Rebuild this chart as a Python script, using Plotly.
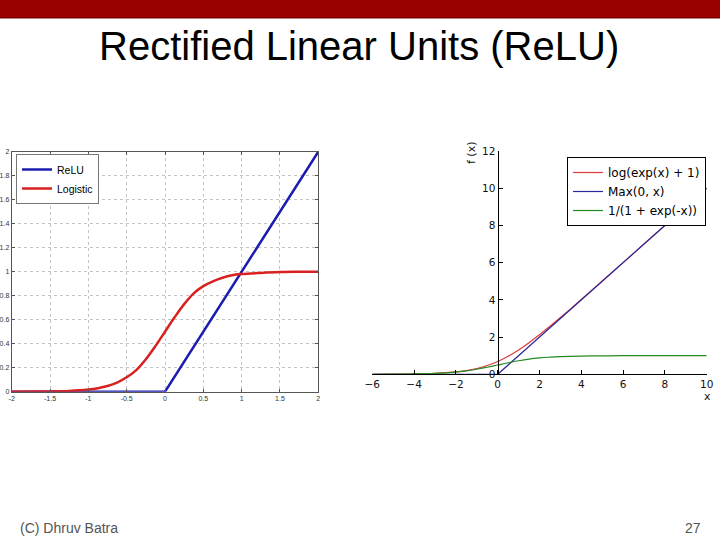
import plotly.graph_objects as go

# Left panel (MATLAB-style): ReLU vs logistic
relu_x = [-2, 0, 2]
relu_y = [0, 0, 2]
logistic_x = [-2, -1.75, -1.5, -1.25, -1, -0.875, -0.75, -0.625, -0.5, -0.375, -0.25, -0.125,
              0, 0.125, 0.25, 0.375, 0.5, 0.625, 0.75, 0.875, 1, 1.25, 1.5, 1.75, 2]
logistic_y = [0.0003, 0.0009, 0.0025, 0.0067, 0.018, 0.029, 0.047, 0.076, 0.12, 0.18, 0.27, 0.38,
              0.50, 0.62, 0.73, 0.82, 0.88, 0.92, 0.95, 0.97, 0.98, 0.99, 0.997, 0.999, 1.0]
left_xticks = [-2, -1.5, -1, -0.5, 0, 0.5, 1, 1.5, 2]
left_xtext = ["-2", "-1.5", "-1", "-0.5", "0", "0.5", "1", "1.5", "2"]

# Right panel (matplotlib-style): softplus, max, sigmoid
softplus_x = [-6, -5, -4, -3, -2, -1.5, -1, -0.5, 0, 0.5, 1, 1.5, 2, 2.5, 3, 3.5, 4, 5, 6, 7, 8, 9, 10]
softplus_y = [0.00, 0.01, 0.02, 0.05, 0.13, 0.20, 0.31, 0.47, 0.69, 0.97, 1.31, 1.70, 2.13, 2.58,
              3.05, 3.53, 4.02, 5.01, 6.00, 7.00, 8.00, 9.00, 10.00]
max_x = [-6, 0, 10]
max_y = [0, 0, 10]
sigmoid_x = [-6, -5, -4, -3, -2, -1.5, -1, -0.5, 0, 0.5, 1, 1.5, 2, 2.5, 3, 4, 5, 6, 8, 10]
sigmoid_y = [0.00, 0.01, 0.02, 0.05, 0.12, 0.18, 0.27, 0.38, 0.50, 0.62, 0.73, 0.82, 0.88, 0.92,
             0.95, 0.98, 0.99, 1.00, 1.00, 1.00]

W, H = 720, 540

def px_x(p):
    return p / W

def px_y(p):
    return 1 - p / H

fig = go.Figure()

# left
fig.add_trace(go.Scatter(x=relu_x, y=relu_y, name="ReLU", mode="lines",
                         line=dict(color="#1c1cb0", width=2.5), xaxis="x", yaxis="y", legend="legend"))
fig.add_trace(go.Scatter(x=logistic_x, y=logistic_y, name="Logistic", mode="lines",
                         line=dict(color="#d82222", width=2.5, shape="spline"),
                         xaxis="x", yaxis="y", legend="legend"))

# right
fig.add_trace(go.Scatter(x=softplus_x, y=softplus_y, name="log(exp(x) + 1)", mode="lines",
                         line=dict(color="#e03a3a", width=1.2, shape="spline"),
                         xaxis="x2", yaxis="y2", legend="legend2"))
fig.add_trace(go.Scatter(x=max_x, y=max_y, name="Max(0, x)", mode="lines",
                         line=dict(color="#2a2aa0", width=1.2),
                         xaxis="x2", yaxis="y2", legend="legend2"))
fig.add_trace(go.Scatter(x=sigmoid_x, y=sigmoid_y, name="1/(1 + exp(-x))", mode="lines",
                         line=dict(color="#238a23", width=1.2, shape="spline"),
                         xaxis="x2", yaxis="y2", legend="legend2"))

small = dict(family="Liberation Sans, Arial, sans-serif", size=7, color="#333")
mpl = dict(family="DejaVu Sans, sans-serif", size=10.5, color="#111")

fig.update_layout(
    width=W, height=H,
    margin=dict(l=0, r=0, t=0, b=0),
    paper_bgcolor="white", plot_bgcolor="white",
    showlegend=True,
    xaxis=dict(domain=[px_x(11.7), px_x(318.3)], range=[-2, 2], anchor="y", automargin=False,
               tickvals=left_xticks, ticktext=left_xtext, tickfont=small,
               showgrid=True, gridcolor="#c4c4c4", griddash="dot", gridwidth=1,
               showline=True, linecolor="#555", linewidth=1, mirror="ticks",
               ticks="inside", ticklen=3, tickcolor="#555", zeroline=False),
    yaxis=dict(domain=[px_y(391.7), px_y(151.7)], range=[0, 2], anchor="x", automargin=False,
               dtick=0.2, tickfont=small,
               showgrid=True, gridcolor="#c4c4c4", griddash="dot", gridwidth=1,
               showline=True, linecolor="#555", linewidth=1, mirror="ticks",
               ticks="inside", ticklen=3, tickcolor="#555", zeroline=False),
    xaxis2=dict(domain=[px_x(372.3), px_x(706.7)], range=[-6, 10], anchor="y2", automargin=False,
                dtick=2, tickfont=mpl, showgrid=False, zeroline=False,
                showline=True, linecolor="black", linewidth=1.3,
                ticks="inside", ticklen=4, tickcolor="black"),
    yaxis2=dict(domain=[px_y(374.3), px_y(151)], range=[0, 12], anchor="free", automargin=False,
                position=px_x(497.7), dtick=2, tickfont=mpl, showgrid=False, zeroline=False,
                showline=True, linecolor="black", linewidth=1.3,
                ticks="inside", ticklen=4, tickcolor="black"),
    legend=dict(x=px_x(16), y=px_y(154), xanchor="left", yanchor="top",
                bgcolor="white", bordercolor="#777", borderwidth=1,
                font=dict(family="Liberation Sans, Arial, sans-serif", size=10.5, color="black"),
                tracegroupgap=0, itemwidth=30),
    legend2=dict(x=px_x(567), y=px_y(157), xanchor="left", yanchor="top",
                 bgcolor="white", bordercolor="black", borderwidth=1,
                 font=dict(family="DejaVu Sans, sans-serif", size=12, color="black"),
                 tracegroupgap=0, itemwidth=30),
)

# slide header bar
fig.add_shape(type="rect", xref="paper", yref="paper", x0=0, x1=1, y0=px_y(18), y1=1,
              fillcolor="#990000", line=dict(width=0), layer="above")
fig.add_shape(type="line", xref="paper", yref="paper", x0=0, x1=1, y0=px_y(18), y1=px_y(18),
              line=dict(color="#6a0000", width=1))

fig.add_annotation(text="Rectified Linear Units (ReLU)", xref="paper", yref="paper",
                   x=px_x(359), y=px_y(46), xanchor="center", yanchor="middle", showarrow=False,
                   font=dict(family="Liberation Sans, Arial, sans-serif", size=40, color="black"))

# right-panel axis labels
fig.add_annotation(text="f (x)", xref="paper", yref="paper", x=px_x(471), y=px_y(153),
                   textangle=-90, showarrow=False, xanchor="center", yanchor="middle",
                   font=dict(family="DejaVu Sans, sans-serif", size=11, color="#111"))
fig.add_annotation(text="x", xref="paper", yref="paper", x=px_x(707), y=px_y(396),
                   showarrow=False, xanchor="center", yanchor="middle",
                   font=dict(family="DejaVu Sans, sans-serif", size=11, color="#111"))

# footer
fig.add_annotation(text="(C) Dhruv Batra", xref="paper", yref="paper", x=px_x(18), y=px_y(528),
                   showarrow=False, xanchor="left", yanchor="middle",
                   font=dict(family="Liberation Sans, Arial, sans-serif", size=14, color="#555"))
fig.add_annotation(text="27", xref="paper", yref="paper", x=px_x(703), y=px_y(528),
                   showarrow=False, xanchor="right", yanchor="middle",
                   font=dict(family="Liberation Sans, Arial, sans-serif", size=14, color="#555"))

# page body margin would shift the 720x540 figure off the window
fig.write_html("out.html", config={"displayModeBar": False},
               post_script="document.body.style.margin='0px';")
